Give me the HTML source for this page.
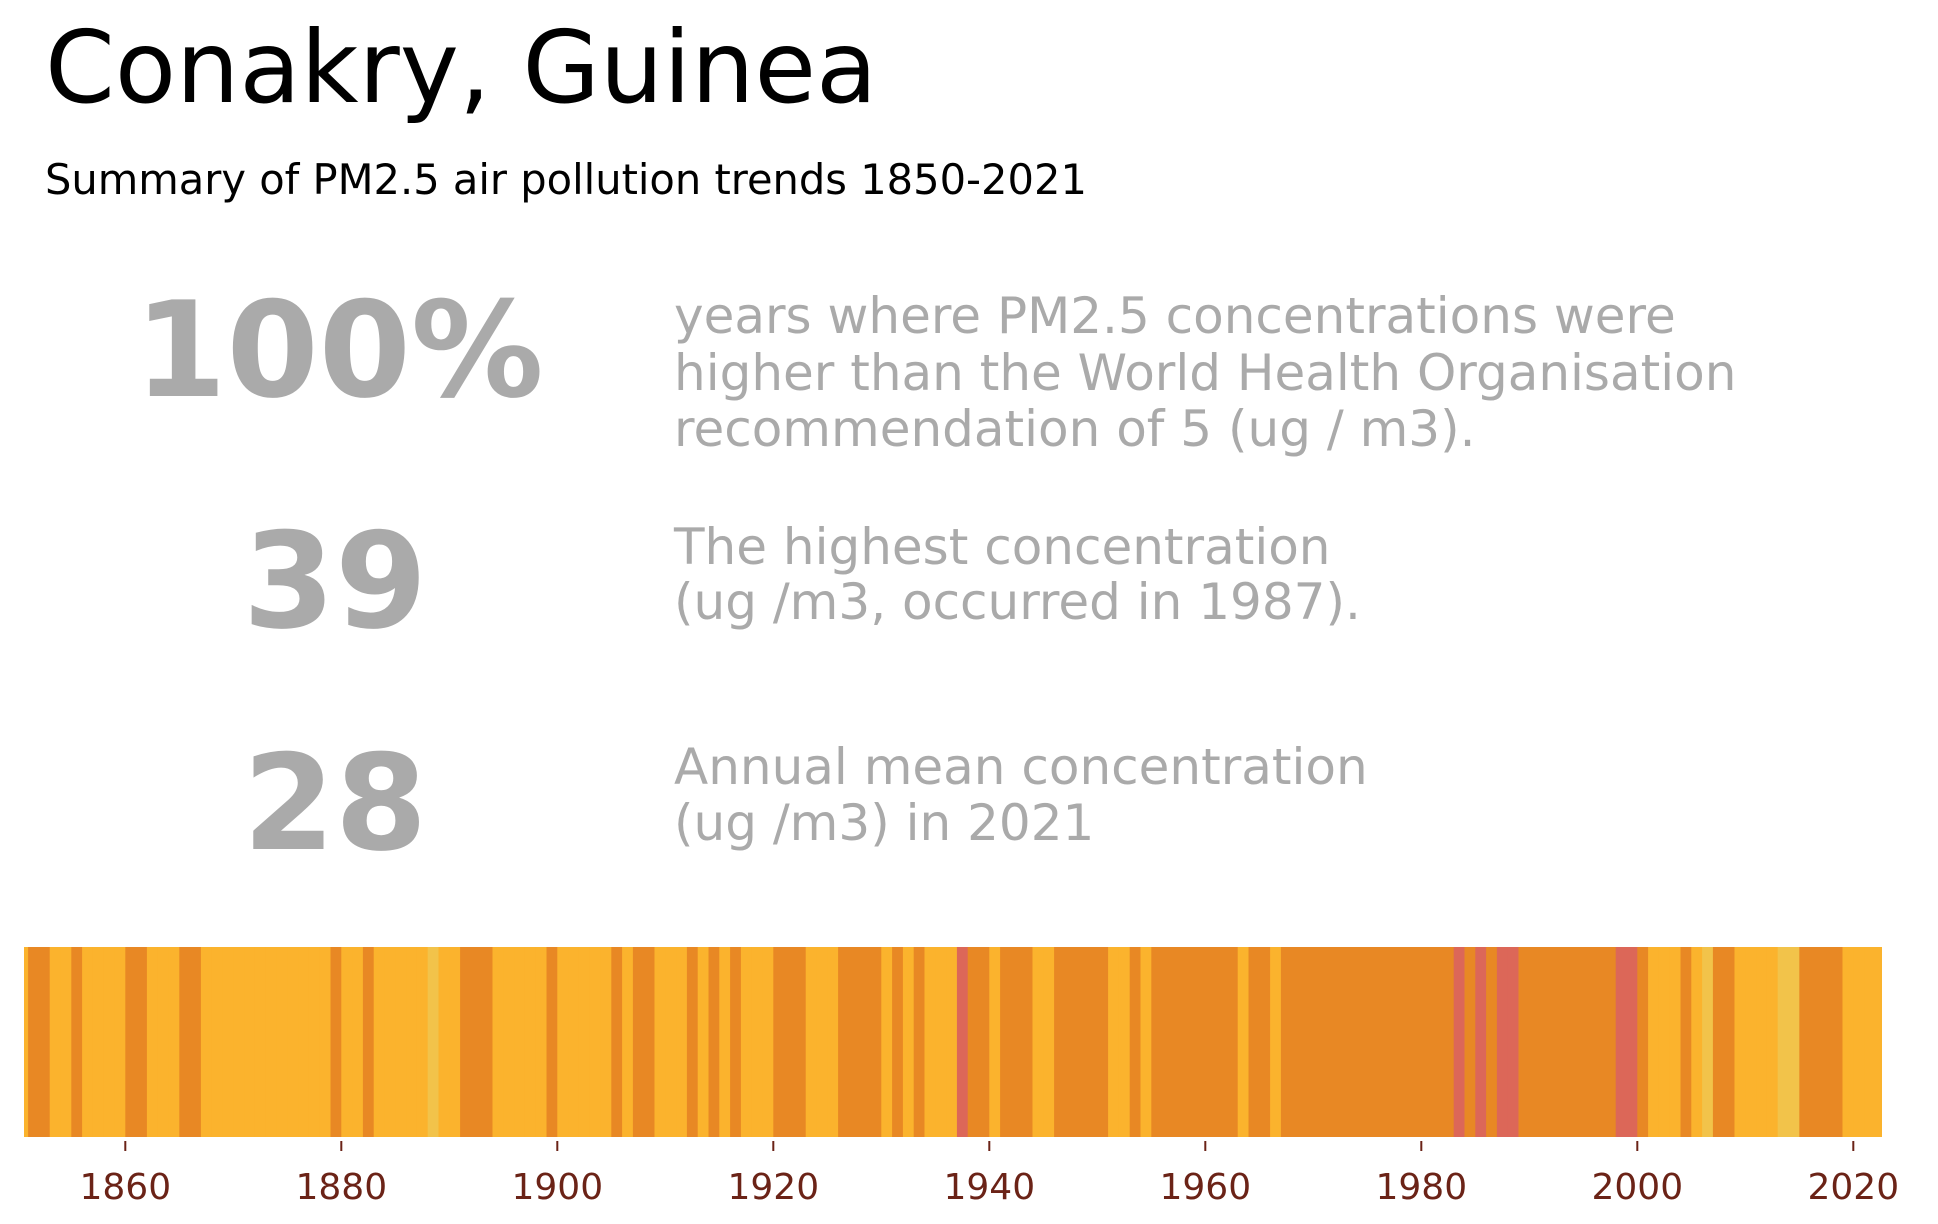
<!DOCTYPE html>
<html><head><meta charset="utf-8"><style>
html,body{margin:0;padding:0;background:#fff;}
svg{display:block;font-family:"DejaVu Sans","Liberation Sans",sans-serif;}
</style></head><body>
<svg id="chart" width="1938" height="1224" viewBox="0 0 1938 1224" xmlns="http://www.w3.org/2000/svg">
<rect width="1938" height="1224" fill="#fff"/>
<text x="45" y="102" font-size="100" fill="#000">Conakry, Guinea</text>
<text x="45" y="194" font-size="41.6" fill="#000">Summary of PM2.5 air pollution trends 1850-2021</text>
<g fill="#aaaaaa" font-weight="bold" font-size="132.5" text-anchor="middle">
<text x="339" y="396">100%</text>
<text x="335" y="627">39</text>
<text x="335" y="849">28</text>
</g>
<g fill="#aaaaaa" font-size="50">
<text x="674" y="333">years where PM2.5 concentrations were</text>
<text x="674" y="390">higher than the World Health Organisation</text>
<text x="674" y="446">recommendation of 5 (ug / m3).</text>
<text x="674" y="564">The highest concentration</text>
<text x="674" y="619">(ug /m3, occurred in 1987).</text>
<text x="674" y="784">Annual mean concentration</text>
<text x="674" y="840">(ug /m3) in 2021</text>
</g>
<defs><clipPath id="barclip"><rect x="24" y="947" width="1858" height="190"/></clipPath></defs>
<g id="stripes" clip-path="url(#barclip)"></g>
<g id="xaxis"></g>
</svg>
<script>
const startYear = 1850;
const values = [
25,31,31,25,25,31,25,25,25,25, // 1850-1859
31,31,25,25,25,31,31,25,25,25, // 1860-1869
25,25,25,25,25,25,25,25,25,31, // 1870-1879
25,25,31,25,25,25,25,25,20,25, // 1880-1889
25,31,31,31,25,25,25,25,25,31, // 1890-1899
25,25,25,25,25,31,25,31,31,25, // 1900-1909
25,25,31,25,31,25,31,25,25,25, // 1910-1919
31,31,31,25,25,25,31,31,31,31, // 1920-1929
25,31,25,31,25,25,25,36,31,31, // 1930-1939
25,31,31,31,25,25,31,31,31,31, // 1940-1949
31,25,25,31,25,31,31,31,31,31, // 1950-1959
31,31,31,25,31,31,25,31,31,31, // 1960-1969
31,31,31,31,31,31,31,31,31,31, // 1970-1979
31,31,31,36,31,36,31,39,37,31, // 1980-1989
31,31,31,31,31,31,31,31,36,36, // 1990-1999
31,26,26,26,31,26,20,31,31,26, // 2000-2009
26,26,26,20,20,31,31,31,31,26, // 2010-2019
26,28                           // 2020-2021
];
const tickYears = [1860,1880,1900,1920,1940,1960,1980,2000,2020];
const tickLabels = ["1860","1880","1900","1920","1940","1960","1980","2000","2020"];

const NS = "http://www.w3.org/2000/svg";
const X0 = 24, PXPY = 10.8, BAR_TOP = 947, BAR_H = 190;
function xScale(year){ return X0 + (year - 1850.12) * PXPY; }
function colorFor(v){
  if (v < 22) return "#f2c34a";
  if (v < 29) return "#fbb32d";
  if (v < 35) return "#e88824";
  return "#dc6758";
}
const sg = document.getElementById("stripes");
values.forEach(function(v, i){
  const yr = startYear + i;
  const x1 = xScale(yr - 0.5);
  const x2 = (i === values.length - 1) ? xScale(yr + 1.2) : xScale(yr + 0.5);
  const r = document.createElementNS(NS, "rect");
  r.setAttribute("x", x1);
  r.setAttribute("y", BAR_TOP);
  r.setAttribute("width", x2 - x1 + 0.4);
  r.setAttribute("height", BAR_H);
  r.setAttribute("fill", colorFor(v));
  
  
  sg.appendChild(r);
});
const ax = document.getElementById("xaxis");
tickYears.forEach(function(t, i){
  const x = xScale(t - 0.5);
  const l = document.createElementNS(NS, "line");
  l.setAttribute("x1", x); l.setAttribute("x2", x);
  l.setAttribute("y1", BAR_TOP + BAR_H + 4); l.setAttribute("y2", BAR_TOP + BAR_H + 14);
  l.setAttribute("stroke", "#6b2317"); l.setAttribute("stroke-width", "2");
  
  
  ax.appendChild(l);
  const tx = document.createElementNS(NS, "text");
  tx.setAttribute("x", x); tx.setAttribute("y", 1199);
  tx.setAttribute("text-anchor", "middle");
  tx.setAttribute("font-size", "36");
  tx.setAttribute("fill", "#6b2317");
  tx.textContent = tickLabels[i];
  
  
  ax.appendChild(tx);
});
</script>
</body></html>
